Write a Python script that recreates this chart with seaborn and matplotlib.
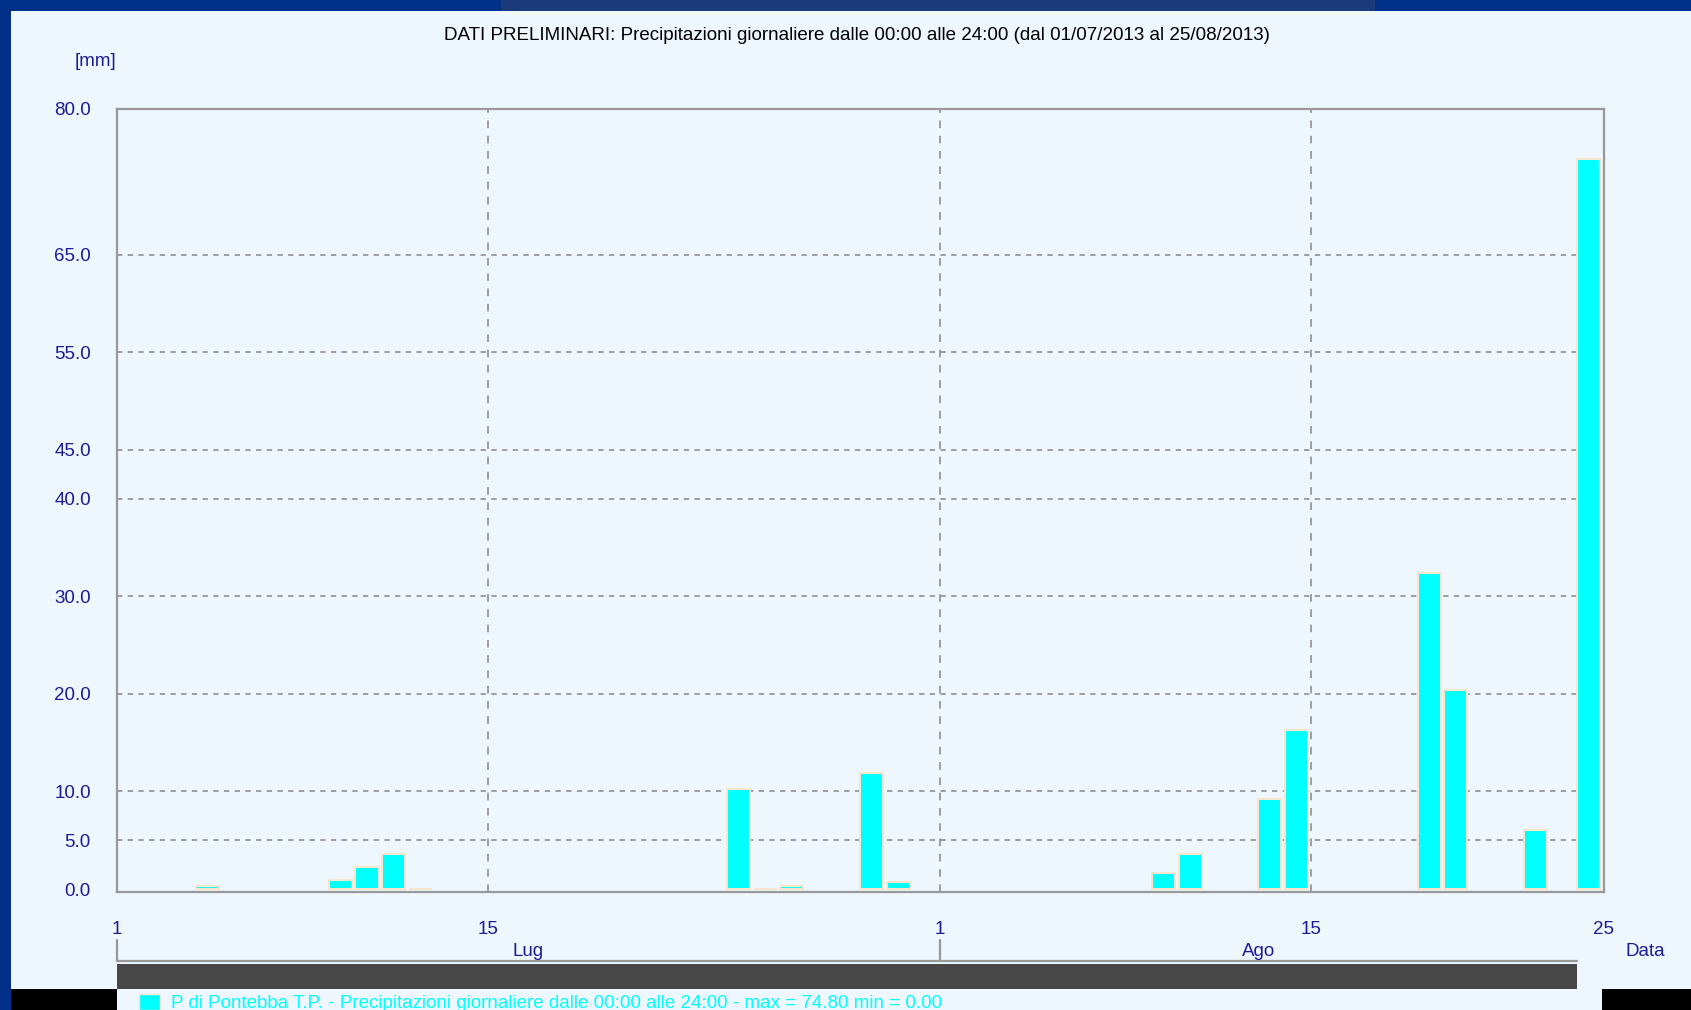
import pandas as pd
import matplotlib
matplotlib.use('Agg')
import matplotlib.pyplot as plt
import matplotlib.transforms as mtransforms
from matplotlib.patches import Rectangle
import seaborn as sns

# precipitazione giornaliera a Pontebba (solo i giorni con una barra)
giorni = ['2013-07-04', '2013-07-09', '2013-07-10', '2013-07-11', '2013-07-12',
          '2013-07-24', '2013-07-25', '2013-07-26', '2013-07-29', '2013-07-30',
          '2013-08-09', '2013-08-10', '2013-08-13', '2013-08-14', '2013-08-19',
          '2013-08-20', '2013-08-23', '2013-08-25']
pioggia_mm = [0.3, 0.9, 2.3, 3.6, 0.0, 10.3, 0.0, 0.3, 11.9, 0.7,
              1.6, 3.6, 9.2, 16.3, 32.4, 20.4, 6.1, 74.8]

inizio = '2013-07-01'
fine = '2013-08-26'   # 25/08 ore 24:00
tick_giorni = ['2013-07-01', '2013-07-15', '2013-08-01', '2013-08-15', '2013-08-26']
tick_etichette = ['1', '15', '1', '15', '25']
y_ticks = [0, 5, 10, 20, 30, 40, 45, 55, 65, 80]
mesi = ['Lug', 'Ago']
mesi_inizio = ['2013-07-01', '2013-08-01']
mesi_fine = ['2013-08-01', '2013-08-25']
anno = '2013'

titolo = ('DATI PRELIMINARI: Precipitazioni giornaliere dalle 00:00 alle 24:00 '
          '(dal 01/07/2013 al 25/08/2013)')
legenda = ('P di Pontebba T.P. - Precipitazioni giornaliere dalle 00:00 alle 24:00 '
           '- max = 74.80 min = 0.00')

W, H = 1691, 1010
SFONDO = '#eef6fe'
BLU = '#003087'
NAVY = '#1c1c94'
GRIGIO = '#999999'
FS = 13.5


def giorno(d):
    return (pd.Timestamp(d) - pd.Timestamp(inizio)).days


def fx(px):
    return px / W


def fy(py):
    return 1 - py / H


# la barra di ogni giorno parte dalla mezzanotte
df = pd.DataFrame({'giorno': [giorno(g) + 0.435 for g in giorni], 'mm': pioggia_mm})

sns.set_theme(style='white')
plt.rcParams['font.family'] = ['Liberation Sans', 'DejaVu Sans']

fig = plt.figure(figsize=(W / 100, H / 100), dpi=100, facecolor=SFONDO)
ax = fig.add_axes([fx(116.5), fy(891.5), fx(1603.5) - fx(116.5), fy(108.5) - fy(891.5)])
ax.set_facecolor(SFONDO)

sns.barplot(data=df, x='giorno', y='mm', native_scale=True, width=0.87,
            color='#00ffff', saturation=1, edgecolor='#f5e6cc', linewidth=1.5,
            errorbar=None, ax=ax)

ax.set_xlim(giorno(inizio), giorno(fine))
ax.set_ylim(-0.25, 80)
ax.set_xlabel('')
ax.set_ylabel('')

ax.set_yticks(y_ticks)
ax.set_yticklabels([f'{v:.1f}' for v in y_ticks])
ax.set_xticks([giorno(d) for d in tick_giorni])
ax.set_xticklabels(tick_etichette)
ax.tick_params(axis='both', which='major', length=14.4, width=1.4, color=GRIGIO,
               labelsize=FS, labelcolor=NAVY, direction='out')
ax.tick_params(axis='y', pad=4)
ax.tick_params(axis='x', pad=7)

for s in ax.spines.values():
    s.set_color(GRIGIO)
    s.set_linewidth(1.6)

for v in y_ticks[1:-1]:
    ax.axhline(v, color='#878787', lw=1.1, ls=(0, (3.5, 3.5)), zorder=0.5)
for d in tick_giorni[1:-1]:
    ax.axvline(giorno(d), color='#878787', lw=1.1, ls=(0, (5, 5)), zorder=0.5)

# titolo e unità
fig.text(fx(857), fy(36), titolo, ha='center', va='center', fontsize=FS, color='black')
fig.text(fx(96), fy(62), '[mm]', ha='center', va='center', fontsize=FS, color=NAVY)
fig.text(fx(1645), fy(952), 'Data', ha='center', va='center', fontsize=FS, color=NAVY)

# fascia dei mesi e dell'anno sotto l'asse
tr = mtransforms.blended_transform_factory(ax.transData, fig.transFigure)
x0, x1 = giorno(mesi_inizio[0]), giorno(mesi_fine[-1])
ax.plot([x0, x1], [fy(961), fy(961)], color=GRIGIO, lw=1.6, transform=tr, clip_on=False)
for m, a, b in zip(mesi, mesi_inizio, mesi_fine):
    ax.plot([giorno(a), giorno(a)], [fy(940), fy(961)], color=GRIGIO, lw=1.6,
            transform=tr, clip_on=False)
    ax.text((giorno(a) + giorno(b)) / 2, fy(952), m, ha='center', va='center',
            fontsize=FS, color=NAVY, transform=tr, clip_on=False)
fig.patches.append(Rectangle((x0, fy(988.5)), x1 - x0, fy(964) - fy(988.5),
                             transform=tr, facecolor='#484848', edgecolor='none',
                             figure=fig))
ax.text((x0 + x1) / 2, fy(977), anno, ha='center', va='center', fontsize=FS,
        color=NAVY, transform=tr, clip_on=False)

# cornici della pagina
fig.patches.append(Rectangle((0, fy(11)), 1, fy(0) - fy(11), transform=fig.transFigure,
                             facecolor=BLU, edgecolor='none', figure=fig))
fig.patches.append(Rectangle((fx(501), fy(11)), fx(874), fy(0) - fy(11),
                             transform=fig.transFigure, facecolor='#1b3a7c',
                             edgecolor='none', figure=fig))
fig.patches.append(Rectangle((0, 0), fx(11), 1, transform=fig.transFigure,
                             facecolor=BLU, edgecolor='none', figure=fig))
fig.patches.append(Rectangle((fx(11), 0), fx(106), fy(988.5), transform=fig.transFigure,
                             facecolor='black', edgecolor='none', figure=fig))
fig.patches.append(Rectangle((fx(1601.5), 0), 1 - fx(1601.5), fy(988.5),
                             transform=fig.transFigure, facecolor='black',
                             edgecolor='none', figure=fig))

# legenda
fig.patches.append(Rectangle((fx(139), fy(1010)), fx(21), fy(994) - fy(1010),
                             transform=fig.transFigure, facecolor='#00ffff',
                             edgecolor='#f5e6cc', lw=1, figure=fig))
fig.text(fx(171), fy(1003), legenda, ha='left', va='center', fontsize=FS, color='#00ffff')

fig.savefig('out.png', dpi=100, facecolor=SFONDO)
